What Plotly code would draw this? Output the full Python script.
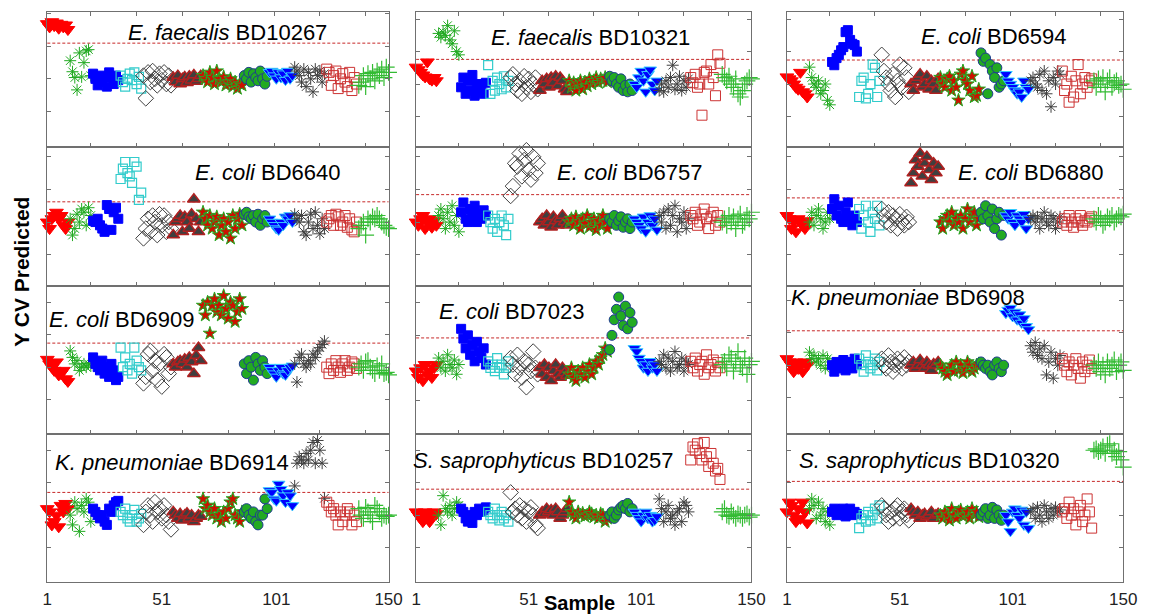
import plotly.graph_objects as go

# ---------------- data ----------------
panel_titles = [
    "<i>E. faecalis</i> BD10267", "<i>E. faecalis</i> BD10321", "<i>E. coli</i> BD6594",
    "<i>E. coli</i> BD6640", "<i>E. coli</i> BD6757", "<i>E. coli</i> BD6880",
    "<i>E. coli</i> BD6909", "<i>E. coli</i> BD7023", "<i>K. pneumoniae</i> BD6908",
    "<i>K. pneumoniae</i> BD6914", "<i>S. saprophyticus</i> BD10257", "<i>S. saprophyticus</i> BD10320",
]
x_tick_labels = ["1", "51", "101", "150"]
x_tick_vals = [1, 51, 101, 150]
x_minor_ticks = [20, 40, 60, 80, 100, 120, 140]

# predicted Y (CV) per panel, grouped by sample class (12 classes, 150 samples)
p01 = [
    [0.85, 0.8, 0.88, 0.82, 0.86, 0.78, 0.84, 0.8, 0.83, 0.76],
    [0.28, 0.11, 0.02, -0.17, 0.4, 0.03, 0.25, 0.43, 0.45, 0.05],
    [0.08, 0.0, -0.1, 0.05, -0.05, 0.02, -0.12, 0.1, 0.03, -0.08, 0.05, -0.02],
    [0.05, -0.05, -0.12, 0.0, 0.08, -0.02, 0.1, -0.08, 0.03, -0.15],
    [0.05, -0.3, 0.1, -0.05, 0.12, 0.0, -0.1, 0.08, -0.02, 0.1, -0.08, 0.05, -0.1],
    [0.02, -0.05, 0.05, -0.08, 0.0, 0.03, -0.06, 0.04, -0.02, 0.06, -0.04, 0.0, 0.05],
    [0.05, 0.0, -0.05, 0.1, 0.02, -0.08, 0.12, 0.0, -0.05, 0.03, -0.1, -0.05, 0.0, -0.12, -0.05, -0.15, -0.08, -0.1],
    [0.05, 0.0, 0.1, -0.05, 0.08, 0.02, -0.03, 0.12, 0.0, -0.08, 0.04],
    [0.1, 0.12, 0.05, 0.0, 0.1, 0.02, 0.08, -0.02, 0.12, 0.0, 0.05],
    [0.18, 0.12, 0.05, -0.05, 0.15, -0.12, 0.1, 0.0, -0.2, 0.15, 0.05, 0.12, -0.05, 0.08],
    [0.15, 0.1, -0.1, 0.05, 0.12, -0.15, 0.0, 0.08, -0.05, -0.12, 0.1, -0.18, 0.02, -0.08],
    [-0.1, -0.05, 0.05, -0.12, 0.08, 0.0, 0.1, -0.03, 0.12, 0.05, 0.15, 0.02, 0.18, 0.1],
]
p02 = [
    [0.26, 0.22, 0.18, 0.14, 0.11, 0.34, 0.08, 0.06, 0.1, 0.05],
    [0.78, 0.72, 0.8, 0.75, 0.9, 0.68, 0.62, 0.82, 0.5, 0.45],
    [-0.05, 0.1, -0.15, 0.05, -0.1, 0.14, -0.18, 0.0, -0.12, -0.05, -0.15, 0.02],
    [0.29, -0.15, 0.05, -0.1, 0.1, 0.0, -0.08, 0.12, -0.05, 0.05],
    [0.1, 0.15, 0.0, -0.1, 0.05, -0.15, 0.12, -0.05, 0.08, -0.12, 0.0, 0.1, -0.08],
    [-0.1, 0.05, 0.0, 0.08, -0.05, 0.1, 0.02, 0.12, -0.03, 0.1, 0.05, -0.08, -0.12],
    [0.05, -0.05, 0.02, -0.1, 0.0, 0.05, -0.08, 0.03, -0.03, 0.08, 0.0, 0.05, 0.1, 0.02, 0.08, 0.05, 0.1, 0.03],
    [0.12, 0.05, 0.1, 0.0, -0.05, 0.08, -0.1, -0.02, -0.12, 0.0, -0.1],
    [0.0, -0.05, 0.1, 0.2, 0.05, -0.12, 0.15, 0.22, 0.0, -0.1, 0.05],
    [-0.1, 0.0, -0.12, 0.05, -0.05, 0.1, 0.29, -0.08, 0.0, 0.12, -0.1, 0.05, -0.05, 0.08],
    [0.1, 0.02, 0.15, -0.05, 0.0, -0.48, 0.18, 0.2, 0.0, 0.3, 0.1, -0.18, 0.45, 0.32],
    [0.15, 0.1, 0.05, 0.12, 0.0, -0.05, 0.08, -0.15, -0.2, -0.1, 0.0, 0.05, 0.1, 0.08],
]
p03 = [
    [0.11, 0.08, 0.05, 0.0, -0.05, -0.08, 0.18, -0.12, -0.15, -0.2],
    [0.26, 0.1, 0.0, -0.05, 0.05, -0.15, -0.1, 0.0, -0.25, -0.32],
    [0.34, 0.29, 0.4, 0.45, 0.52, 0.57, 0.8, 0.83, 0.68, 0.62, 0.6, 0.5],
    [-0.2, 0.05, 0.1, -0.22, -0.15, 0.0, 0.3, 0.25, -0.2, 0.05],
    [0.45, 0.2, 0.1, 0.0, -0.1, 0.15, -0.2, 0.05, 0.3, -0.05, 0.25, 0.1, -0.12],
    [0.0, -0.1, 0.05, 0.1, 0.15, -0.05, 0.0, 0.12, -0.08, 0.05, 0.0, -0.1, 0.08],
    [0.1, 0.0, -0.05, 0.08, 0.12, -0.1, 0.05, -0.05, -0.25, 0.15, 0.2, 0.05, 0.0, -0.1, 0.12, -0.2, -0.18, -0.08],
    [0.48, 0.35, 0.4, -0.15, 0.3, 0.2, 0.1, 0.25, -0.05, 0.0, 0.05],
    [0.15, 0.05, 0.0, -0.05, -0.1, -0.15, -0.12, -0.2, 0.05, -0.05, -0.08],
    [0.05, 0.1, 0.0, -0.05, 0.15, -0.1, 0.2, -0.15, 0.05, -0.35, 0.1, 0.0, 0.2, 0.15],
    [0.2, -0.1, 0.0, -0.28, 0.12, -0.2, 0.05, 0.3, -0.15, 0.0, 0.1, -0.05, 0.05, 0.08],
    [0.05, -0.05, 0.08, 0.0, 0.1, -0.12, 0.05, 0.1, -0.05, 0.02, 0.05, -0.02, 0.0, -0.08],
]
p04 = [
    [0.0, -0.1, 0.05, 0.1, 0.15, 0.05, 0.1, -0.05, -0.1, 0.0],
    [0.05, -0.2, -0.1, 0.12, 0.0, 0.2, 0.15, -0.05, 0.22, 0.1],
    [0.02, 0.0, 0.05, -0.05, -0.1, -0.15, 0.26, 0.2, -0.12, 0.15, 0.22, 0.05],
    [0.66, 0.82, 0.92, 0.75, 0.7, 0.6, 0.92, 0.85, 0.34, 0.45],
    [-0.25, -0.1, 0.05, -0.15, 0.1, 0.0, -0.2, 0.12, -0.05, 0.1, -0.15, 0.0, -0.1],
    [-0.2, 0.0, 0.05, 0.1, -0.15, 0.08, 0.0, -0.1, 0.12, 0.35, 0.05, -0.15, 0.0],
    [0.15, 0.05, -0.05, 0.1, -0.1, 0.0, 0.08, -0.2, -0.05, 0.05, -0.15, 0.0, -0.25, 0.1, -0.1, 0.05, 0.12, -0.05],
    [0.12, 0.15, 0.08, 0.05, 0.1, 0.0, 0.12, -0.05, 0.05, 0.1, 0.0],
    [0.05, 0.0, -0.05, -0.1, -0.12, 0.0, -0.05, 0.08, 0.05, 0.1, 0.0],
    [0.12, 0.05, 0.0, 0.1, -0.15, -0.2, 0.0, 0.12, -0.1, 0.15, -0.05, -0.18, 0.05, -0.1],
    [0.0, 0.05, 0.1, -0.05, 0.12, 0.08, -0.05, 0.0, 0.1, -0.08, 0.05, -0.12, -0.15, 0.0],
    [-0.1, -0.05, 0.0, -0.2, 0.05, 0.0, 0.08, 0.05, 0.1, 0.05, 0.0, -0.05, -0.08, -0.1],
]
p05 = [
    [0.0, -0.05, 0.05, 0.1, -0.1, 0.0, 0.05, -0.08, 0.02, -0.05],
    [0.1, 0.2, 0.05, -0.1, 0.15, 0.0, 0.25, -0.05, 0.1, -0.15],
    [0.15, 0.3, 0.05, 0.0, 0.2, 0.1, 0.25, 0.0, 0.12, 0.05, 0.18, 0.1],
    [0.1, 0.0, -0.1, 0.05, -0.15, 0.0, 0.1, -0.05, -0.2, 0.05],
    [0.4, 0.55, 0.9, 0.85, 1.05, 0.7, 0.95, 1.1, 0.8, 0.65, 1.0, 0.75, 0.9],
    [0.0, 0.05, -0.05, 0.1, 0.0, -0.08, 0.08, 0.02, -0.05, 0.05, 0.1, 0.0, -0.05],
    [0.0, 0.05, -0.05, 0.08, 0.0, -0.1, 0.05, -0.02, 0.1, -0.08, 0.0, 0.05, -0.12, 0.02, -0.05, 0.1, 0.0, -0.1],
    [0.05, 0.0, 0.1, -0.05, 0.02, 0.08, -0.08, 0.0, 0.05, -0.1, 0.0],
    [0.05, 0.0, -0.05, -0.1, 0.08, -0.15, 0.0, 0.1, -0.05, 0.05, -0.12],
    [0.1, 0.0, 0.15, -0.1, 0.2, -0.05, 0.1, 0.25, -0.15, 0.05, 0.0, 0.15, -0.1, 0.05],
    [0.1, 0.05, 0.15, -0.05, 0.0, 0.12, 0.2, 0.05, -0.1, 0.08, 0.15, -0.05, 0.1, 0.0],
    [0.0, 0.05, -0.05, 0.1, 0.0, 0.08, -0.1, 0.05, 0.12, -0.05, 0.0, 0.1, 0.05, 0.15],
]
p06 = [
    [0.1, 0.05, -0.1, 0.0, -0.15, 0.05, 0.0, -0.05, -0.1, 0.02],
    [0.0, 0.15, -0.05, 0.1, 0.2, 0.05, -0.1, 0.0, 0.15, 0.05],
    [0.2, 0.35, 0.1, 0.25, 0.05, 0.0, 0.15, 0.3, 0.05, -0.05, 0.1, 0.0],
    [0.2, -0.1, 0.1, 0.25, 0.0, -0.15, 0.15, 0.05, 0.25, -0.05],
    [0.2, 0.1, 0.0, 0.15, -0.05, 0.1, 0.05, -0.1, 0.12, 0.0, -0.05, 0.08, 0.0],
    [0.6, 0.75, 0.95, 0.85, 1.05, 0.7, 0.9, 1.0, 0.8, 0.65, 0.9, 0.75, 0.85],
    [0.0, -0.1, 0.05, 0.1, 0.0, 0.15, -0.05, 0.05, 0.0, 0.1, -0.1, 0.05, 0.2, 0.0, 0.1, 0.15, -0.05, 0.05],
    [0.15, 0.05, 0.25, 0.1, 0.0, 0.2, -0.1, 0.05, 0.15, -0.2, 0.1],
    [0.1, 0.05, 0.15, 0.0, -0.05, 0.1, 0.05, 0.0, 0.12, -0.1, 0.05],
    [0.05, 0.1, 0.0, 0.08, -0.1, 0.05, 0.15, 0.0, -0.05, 0.1, 0.05, -0.1, 0.0, 0.08],
    [0.0, 0.05, -0.05, 0.1, 0.0, -0.08, 0.05, 0.0, 0.1, -0.05, 0.02, 0.0, 0.05, 0.08],
    [0.05, 0.0, 0.1, 0.05, -0.05, 0.0, 0.08, 0.05, 0.1, 0.0, 0.05, 0.1, 0.08, 0.12],
]
p07 = [
    [0.12, 0.05, 0.0, -0.05, 0.08, -0.12, -0.1, -0.05, -0.18, -0.22],
    [0.25, 0.15, 0.05, 0.1, -0.05, 0.0, 0.05, 0.0, 0.05, 0.02],
    [0.15, 0.05, 0.0, -0.05, 0.1, -0.1, 0.0, -0.15, 0.05, -0.05, -0.2, -0.15],
    [0.3, 0.0, 0.15, -0.05, 0.05, -0.1, 0.3, 0.1, 0.0, -0.05],
    [-0.25, -0.15, 0.2, 0.25, -0.05, 0.1, -0.2, 0.05, -0.3, 0.2, 0.15, -0.1, 0.0],
    [0.05, 0.0, 0.08, 0.1, 0.05, 0.12, 0.0, 0.15, 0.08, -0.1, 0.18, 0.3, 0.1],
    [0.95, 0.8, 1.0, 0.52, 0.95, 1.05, 0.85, 0.95, 0.8, 1.1, 0.9, 0.75, 1.0, 0.95, 0.7, 0.85, 1.05, 0.9],
    [0.05, -0.1, 0.1, 0.0, -0.2, 0.15, 0.05, -0.05, 0.1, 0.0, -0.1],
    [0.0, -0.05, -0.1, -0.15, -0.05, 0.0, -0.1, -0.12, -0.05, 0.0, 0.02],
    [0.05, -0.23, 0.15, 0.2, 0.05, 0.0, 0.1, 0.05, 0.2, 0.15, 0.25, 0.3, 0.35, 0.4],
    [0.0, -0.1, 0.05, -0.05, 0.1, 0.0, -0.08, 0.05, 0.1, -0.05, 0.0, 0.08, 0.05, -0.02],
    [0.0, 0.05, -0.05, 0.08, 0.1, 0.0, -0.05, -0.1, 0.02, -0.05, 0.05, -0.1, -0.08, -0.12],
]
p08 = [
    [-0.05, -0.15, 0.0, -0.2, 0.05, -0.1, -0.05, -0.15, 0.0, 0.05],
    [0.15, 0.0, 0.1, -0.05, 0.2, 0.05, 0.0, 0.12, -0.1, 0.05],
    [0.6, 0.45, 0.3, 0.5, 0.2, 0.35, 0.1, 0.4, 0.25, 0.15, 0.3, 0.05],
    [0.1, 0.0, 0.05, -0.05, 0.15, 0.0, 0.05, -0.1, 0.0, 0.1],
    [0.15, 0.05, -0.1, 0.2, 0.0, -0.15, 0.1, -0.3, 0.05, -0.05, 0.25, 0.0, -0.1],
    [0.0, -0.1, 0.05, -0.15, 0.0, -0.2, -0.05, 0.05, -0.1, -0.15, 0.0, -0.08, -0.12],
    [-0.1, 0.0, -0.15, -0.2, -0.05, -0.1, 0.0, -0.15, -0.05, 0.05, -0.1, 0.0, 0.1, 0.05, 0.15, 0.2, 0.3, 0.25],
    [0.28, 0.5, 0.74, 0.9, 1.09, 0.8, 0.65, 0.95, 0.6, 0.85, 0.7],
    [0.3, 0.25, 0.15, 0.1, 0.0, 0.05, -0.05, 0.1, 0.0, 0.05, -0.05],
    [0.1, 0.05, 0.2, 0.0, 0.15, -0.05, 0.1, 0.25, 0.0, 0.05, 0.15, -0.05, 0.1, 0.05],
    [0.1, 0.0, 0.15, -0.05, 0.05, 0.1, -0.1, 0.2, 0.0, 0.05, 0.12, -0.05, 0.08, 0.0],
    [0.05, 0.1, 0.0, 0.2, 0.15, -0.05, 0.1, 0.25, 0.05, 0.0, 0.15, -0.1, 0.05, 0.1],
]
p09 = [
    [0.1, 0.05, 0.0, -0.1, 0.05, -0.05, 0.0, -0.1, 0.05, 0.0],
    [0.2, 0.1, 0.15, 0.05, 0.1, 0.0, 0.15, -0.05, 0.1, 0.05],
    [0.0, -0.1, 0.05, -0.05, 0.0, 0.08, -0.08, 0.05, 0.0, -0.05, 0.1, 0.02],
    [0.1, 0.0, -0.1, 0.15, 0.05, -0.05, 0.0, 0.1, -0.08, 0.05],
    [0.1, 0.0, -0.05, 0.15, 0.05, -0.1, 0.0, 0.1, 0.05, -0.05, 0.12, 0.0, 0.05],
    [0.0, 0.05, -0.05, 0.0, 0.08, 0.0, -0.05, 0.05, 0.0, -0.08, 0.02, 0.0, 0.05],
    [0.0, -0.05, -0.1, -0.15, -0.05, 0.0, -0.1, 0.05, -0.08, 0.0, -0.12, -0.05, 0.05, 0.0, -0.1, -0.05, 0.0, 0.02],
    [0.05, 0.0, -0.05, 0.0, -0.1, -0.15, 0.0, 0.05, -0.05, -0.1, 0.0],
    [0.8, 0.85, 0.88, 0.75, 0.82, 0.7, 0.78, 0.65, 0.72, 0.6, 0.55],
    [0.3, 0.2, 0.35, 0.15, 0.25, 0.1, 0.3, -0.15, 0.05, 0.2, -0.2, 0.1, 0.0, 0.15],
    [0.1, 0.0, -0.1, 0.05, -0.15, 0.0, 0.1, -0.05, -0.2, 0.05, -0.1, 0.0, 0.08, -0.05],
    [0.0, -0.05, 0.05, -0.1, 0.0, -0.15, 0.05, -0.05, 0.0, 0.08, -0.1, 0.0, 0.05, -0.08],
]
p10 = [
    [0.1, 0.05, -0.15, -0.1, 0.0, -0.18, 0.15, 0.05, 0.18, 0.1],
    [0.0, -0.15, 0.2, 0.1, -0.25, 0.15, 0.05, 0.25, 0.2, -0.1],
    [0.1, 0.05, 0.0, -0.05, 0.0, -0.1, -0.15, 0.1, 0.05, 0.15, 0.2, 0.22],
    [0.05, 0.0, 0.1, -0.05, -0.1, 0.0, 0.08, -0.1, -0.05, 0.02],
    [-0.15, 0.05, 0.15, 0.0, -0.1, 0.2, 0.05, 0.1, -0.05, 0.15, 0.0, -0.1, -0.22],
    [0.05, 0.0, -0.05, 0.02, -0.08, 0.0, 0.03, -0.05, 0.0, -0.1, -0.05, 0.0, -0.02],
    [0.25, 0.1, 0.15, 0.05, 0.0, 0.1, -0.05, 0.0, -0.1, 0.05, -0.05, 0.1, 0.2, 0.25, 0.0, -0.05, -0.1, 0.05],
    [0.05, 0.1, 0.0, -0.05, 0.05, -0.1, -0.15, 0.0, 0.0, 0.25, 0.1],
    [0.38, 0.35, 0.25, 0.22, 0.48, 0.4, 0.3, 0.2, 0.35, 0.3, 0.15],
    [0.45, 0.8, 0.9, 0.85, 0.8, 0.95, 0.85, 1.0, 1.12, 0.8, 1.15, 1.0, 0.8, 0.26],
    [0.2, 0.15, 0.05, 0.1, 0.0, -0.15, 0.05, -0.1, 0.0, 0.1, 0.05, -0.15, 0.0, -0.1],
    [0.1, 0.0, -0.05, 0.12, 0.05, 0.0, -0.1, 0.15, 0.1, 0.05, -0.05, 0.0, -0.02, 0.0],
]
p11 = [
    [0.05, 0.0, -0.05, -0.1, 0.05, -0.05, -0.1, 0.0, 0.05, 0.02],
    [0.0, -0.15, 0.3, 0.1, 0.05, 0.15, 0.0, 0.1, 0.2, 0.15],
    [0.1, 0.05, -0.05, -0.1, 0.0, -0.12, 0.05, 0.0, 0.1, 0.05, 0.08, 0.12],
    [0.05, 0.0, -0.05, 0.1, 0.0, -0.08, 0.05, -0.05, 0.0, -0.1],
    [0.35, 0.05, 0.1, 0.0, 0.15, -0.05, 0.1, -0.1, 0.05, 0.12, 0.0, -0.15, -0.2],
    [0.0, 0.05, 0.02, 0.1, 0.05, 0.08, 0.0, 0.1, 0.05, -0.05, 0.0, 0.05, 0.1],
    [0.2, 0.05, 0.0, -0.05, 0.05, 0.0, 0.03, -0.02, 0.0, 0.05, 0.02, -0.03, 0.0, -0.05, 0.02, 0.0, -0.1, -0.05],
    [0.0, 0.05, -0.05, 0.0, 0.08, 0.12, 0.15, 0.1, 0.18, 0.05, 0.1],
    [0.05, 0.0, -0.05, -0.1, 0.0, 0.05, -0.05, 0.0, -0.1, -0.08, -0.02],
    [0.25, 0.1, -0.1, 0.05, 0.15, -0.05, 0.0, -0.15, 0.05, 0.1, -0.1, 0.2, 0.15, 0.05],
    [0.85, 1.05, 1.0, 1.1, 0.95, 0.85, 1.12, 0.9, 0.75, 0.95, 0.8, 0.68, 0.72, 0.55],
    [0.05, 0.1, 0.0, -0.02, 0.05, 0.0, -0.05, 0.02, 0.0, -0.05, 0.0, 0.02, -0.03, 0.0],
]
p12 = [
    [0.05, 0.2, 0.15, 0.0, -0.1, 0.1, -0.05, 0.2, 0.05, -0.12],
    [0.1, 0.25, 0.15, -0.05, 0.2, 0.0, 0.1, -0.1, 0.05, -0.15],
    [0.05, 0.1, 0.0, 0.08, 0.02, 0.1, -0.02, 0.05, 0.1, 0.0, 0.05, 0.02],
    [-0.2, -0.05, 0.0, -0.1, 0.05, -0.08, 0.0, 0.1, -0.05, 0.15],
    [0.15, 0.1, 0.0, -0.1, 0.05, -0.05, 0.1, 0.15, -0.05, 0.05, 0.1, 0.0, -0.08],
    [0.1, 0.05, 0.0, 0.05, -0.05, 0.0, 0.02, -0.03, 0.0, 0.05, -0.05, 0.0, 0.02],
    [0.0, -0.05, 0.05, 0.0, -0.08, 0.1, 0.0, -0.05, 0.05, 0.08, -0.02, 0.0, 0.05, -0.05, 0.1, 0.0, 0.05, -0.03],
    [0.0, 0.05, 0.1, -0.05, 0.0, 0.12, -0.05, 0.08, 0.0, -0.08, 0.0],
    [0.0, -0.1, -0.25, 0.05, 0.1, 0.0, -0.05, 0.08, -0.15, 0.05, -0.2],
    [0.05, 0.1, -0.05, 0.12, 0.0, -0.1, 0.15, 0.05, -0.05, 0.1, 0.0, 0.12, 0.05, 0.08],
    [0.05, 0.1, -0.05, 0.2, 0.0, 0.1, -0.15, 0.05, 0.15, -0.1, 0.0, 0.25, 0.05, -0.2],
    [1.0, 1.02, 0.98, 1.0, 1.05, 0.95, 1.08, 1.1, 0.95, 1.0, 0.9, 0.98, 0.85, 0.74],
]
panels = [p01, p02, p03, p04, p05, p06, p07, p08, p09, p10, p11, p12]

# axis limits and classification thresholds per panel
y_lo = [-1.05, -0.97, -0.97, -0.98, -0.98, -0.98, -1.03, -1.02, -1.06, -1.03, -1.03, -1.03]
y_hi = [1.03, 1.11, 1.11, 1.15, 1.15, 1.15, 1.25, 1.26, 1.22, 1.25, 1.25, 1.25]
thresholds = [0.55, 0.38, 0.37, 0.31, 0.42, 0.37, 0.37, 0.46, 0.53, 0.35, 0.40, 0.52]
y_ticks = [-0.5, 0, 0.5, 1.0]

# ---------------- styles ----------------
GREEN = "#22aa22"
class_styles = [
    dict(symbol="triangle-down", size=12, color="#ff0000", line=dict(color="#ff0000", width=1)),
    dict(symbol="asterisk-open", size=10, color=GREEN, line=dict(color=GREEN, width=1)),
    dict(symbol="square", size=9, color="#0000ff", line=dict(color="#0000ff", width=1)),
    dict(symbol="square-open", size=9, color="#33cccc", line=dict(color="#33cccc", width=1.2)),
    dict(symbol="diamond-open", size=12, color="#404040", line=dict(color="#404040", width=1)),
    dict(symbol="triangle-up", size=11, color="#3f3f3f", line=dict(color="#b02020", width=1.5)),
    dict(symbol="star", size=10, color="#cc1100", line=dict(color=GREEN, width=1)),
    dict(symbol="circle", size=10, color=GREEN, line=dict(color="#1f3a93", width=1)),
    dict(symbol="triangle-down", size=11, color="#0000ff", line=dict(color="#33ccff", width=1)),
    dict(symbol="asterisk-open", size=10, color="#404040", line=dict(color="#404040", width=1)),
    dict(symbol="square-open", size=10, color="#cc3333", line=dict(color="#cc3333", width=1)),
    dict(symbol="cross-thin-open", size=12, color="#33bb33", line=dict(color="#33bb33", width=1.2)),
]

W, H = 1153, 616
col_px = [(43, 390), (418, 759), (795, 1137)]
row_px = [(12, 147), (147, 286), (286, 434), (434, 582)]
title_px = [(226, 32), (595, 38), (1006, 37), (267, 172), (635, 172), (1043, 172),
            (119, 320), (515, 312), (918, 297), (170, 462), (548, 460), (940, 460)]

fig = go.Figure()
layout = dict(width=W, height=H, margin=dict(l=0, r=0, t=0, b=0), autosize=False,
              paper_bgcolor="white", plot_bgcolor="white", showlegend=False,
              font=dict(family="Liberation Sans, Arial, sans-serif", color="black"))
shapes, annotations = [], []
AX = "#707070"

for i, pdata in enumerate(panels):
    r, c = divmod(i, 3)
    k = i + 1
    xs = "" if k == 1 else str(k)
    start = 1
    for ci, vals in enumerate(pdata):
        xvals = list(range(start, start + len(vals)))
        start += len(vals)
        st = class_styles[ci]
        fig.add_trace(go.Scatter(
            x=xvals, y=vals, mode="markers", xaxis="x" + xs, yaxis="y" + xs,
            cliponaxis=False, hoverinfo="skip",
            marker=dict(symbol=st["symbol"], size=st["size"], color=st["color"], line=st["line"])))
    x0, x1 = col_px[c]
    t, b = row_px[r]
    xa = dict(domain=[x0 / W, x1 / W], range=[1, 150], anchor="y" + xs,
              showgrid=False, zeroline=False, showline=True, linecolor=AX, linewidth=1,
              mirror=True, fixedrange=True)
    if r == 3:
        xa.update(tickvals=x_tick_vals, ticktext=x_tick_labels, ticks="",
                  tickfont=dict(size=17, color="#222"), ticklabelstandoff=2)
    else:
        xa.update(tickvals=x_minor_ticks, ticks="inside", ticklen=4, tickcolor=AX,
                  showticklabels=False, mirror="ticks" if r == 0 else True)
    ya = dict(domain=[1 - b / H, 1 - t / H], range=[y_lo[i], y_hi[i]], anchor="x" + xs,
              showgrid=False, zeroline=False, showline=True, linecolor=AX, linewidth=1,
              mirror="ticks", tickvals=y_ticks, ticks="inside", ticklen=4, tickcolor=AX,
              showticklabels=False, fixedrange=True)
    layout["xaxis" + xs] = xa
    layout["yaxis" + xs] = ya
    shapes.append(dict(type="line", xref="x" + xs + " domain", yref="y" + xs,
                       x0=0, x1=1, y0=thresholds[i], y1=thresholds[i],
                       line=dict(color="#c62828", width=1, dash="3px,2px"), layer="below"))
    tx, ty = title_px[i]
    annotations.append(dict(text=panel_titles[i], x=tx / W, y=1 - ty / H, xref="paper", yref="paper",
                            showarrow=False, xanchor="center", yanchor="middle",
                            font=dict(size=22, color="black")))

annotations.append(dict(text="<b>Y CV Predicted</b>", x=17 / W, y=1 - 272 / H, xref="paper", yref="paper",
                        showarrow=False, textangle=-90, xanchor="center", yanchor="middle",
                        font=dict(size=21, color="black")))
annotations.append(dict(text="<b>Sample</b>", x=584 / W, y=1 - 603 / H, xref="paper", yref="paper",
                        showarrow=False, xanchor="center", yanchor="middle",
                        font=dict(size=20, color="black")))
layout["shapes"] = shapes
layout["annotations"] = annotations
fig.update_layout(**layout)
fig.write_html("out.html")
